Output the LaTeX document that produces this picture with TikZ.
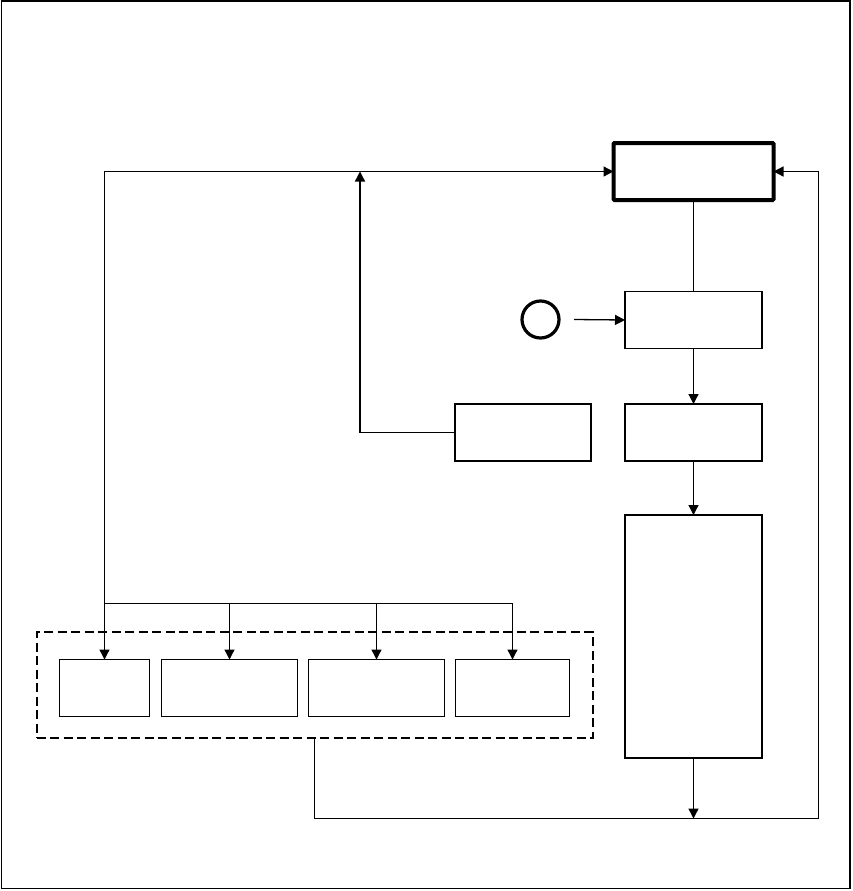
\documentclass[tikz,border=0pt]{standalone}
\usetikzlibrary{arrows.meta}
\begin{document}
\begin{tikzpicture}[x=1pt,y=-1pt,
  ln/.style={line width=1.3pt},
  arr/.style={ln,-{Triangle[length=10pt,width=10pt]}},
  blk/.style={draw,ln,rectangle,inner sep=0pt,outer sep=0pt,minimum height=57pt},
  thickblk/.style={draw,line width=4pt,rectangle,rounded corners=1pt,inner sep=0pt,outer sep=0pt,minimum width=160pt,minimum height=57pt},
  grp/.style={draw,line width=2pt,dash pattern=on 9pt off 4.5pt,rectangle,inner sep=0pt,outer sep=0pt}]
\useasboundingbox (0,0) rectangle (852,891);
\draw[ln] (1.5,1) rectangle (850,888.5);
\node[thickblk] (top) at (693.5,171.5) {};
\node[blk,minimum width=137pt,minimum height=56.5pt] (b2) at (693.5,320) {};
\node[blk,minimum width=137pt] (b3) at (693.5,432.5) {};
\node[blk,minimum width=136pt] (b4) at (523,432.5) {};
\node[blk,minimum width=137pt,minimum height=243pt] (b5) at (693.5,636.5) {};
\node[grp,minimum width=556pt,minimum height=106pt] (grp) at (314.5,685) {};
\node[blk,minimum width=90pt] (s1) at (104.5,688) {};
\node[blk,minimum width=136pt] (s2) at (229.5,688) {};
\node[blk,minimum width=136pt] (s3) at (376.5,688) {};
\node[blk,minimum width=114pt] (s4) at (512.5,688) {};
\node[draw,circle,line width=3.2pt,minimum size=37pt,inner sep=0pt] (circ) at (540.5,319.5) {};
\coordinate (busL) at (104.5,603.5);
\coordinate (busR) at (512.5,603.5);
\coordinate (upT) at (360,171.5);
\coordinate (circOut) at (574,319.5);
\coordinate (bot) at (693.5,818.5);
\coordinate (botR) at (818.5,818.5);
% connectors
\draw[arr] (busL) |- (top.west);
\draw[ln] (busL) -- (busR);
\draw[arr] (busL) -- (s1.north);
\draw[arr] (s2.north |- busL) -- (s2.north);
\draw[arr] (s3.north |- busL) -- (s3.north);
\draw[arr] (busR) -- (s4.north);
\draw[arr] (b4.west) -| (upT);
\draw[ln] (top.south) -- (top.south |- b2.north);
\draw[arr] (circOut) -- (b2.west);
\draw[arr] (b2.south) -- (b2.south |- b3.north);
\draw[arr] (b3.south) -- (b3.south |- b5.north);
\draw[arr] (b5.south) -- (bot);
\draw[ln] (grp.south) |- (botR);
\draw[arr] (botR) |- (top.east);
\end{tikzpicture}
\end{document}
